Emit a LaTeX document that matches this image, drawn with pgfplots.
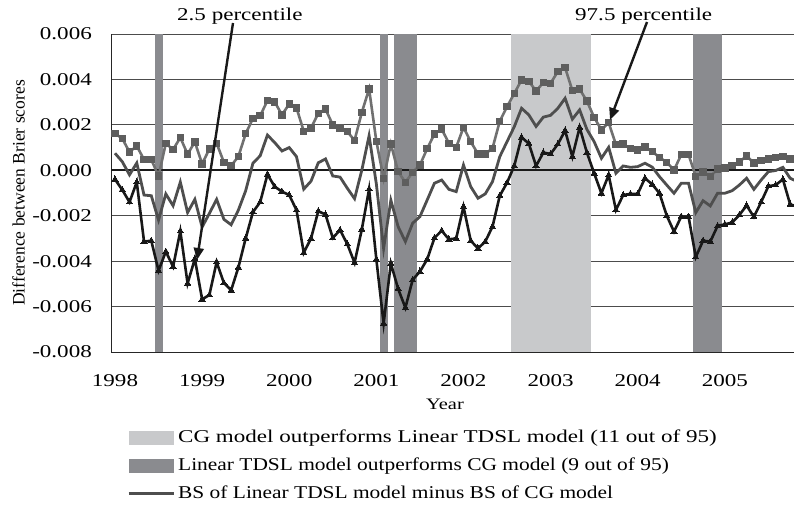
\documentclass[border=0pt]{standalone}
\usepackage{fontspec}
\setmainfont{Liberation Serif}[FakeStretch=1.28]
\newfontfamily\plainserif{Liberation Serif}
\newfontfamily\legnarrow{Liberation Serif}[FakeStretch=1.19]
\usepackage{pgfplots}
\pgfplotsset{compat=1.18}
\usepackage{pgfplotstable}
\usetikzlibrary{arrows.meta}
\definecolor{lightband}{HTML}{C8C9CB}
\definecolor{darkband}{HTML}{8A8B8F}
\definecolor{upcol}{HTML}{707070}
\definecolor{upmark}{HTML}{5E5E5E}
\definecolor{midcol}{HTML}{4E4E4E}
\definecolor{lowcol}{HTML}{181818}
\pgfplotstableread{
m U M L
0 0.00162 0.00075 -0.00040
1 0.00140 0.00038 -0.00086
2 0.00080 -0.00020 -0.00140
3 0.00107 0.00032 -0.00052
4 0.00047 -0.00109 -0.00314
5 0.00047 -0.00112 -0.00310
6 -0.00025 -0.00219 -0.00442
7 0.00118 -0.00104 -0.00358
8 0.00091 -0.00156 -0.00424
9 0.00144 -0.00052 -0.00268
10 0.00071 -0.00186 -0.00498
11 0.00125 -0.00128 -0.00390
12 0.00028 -0.00250 -0.00568
13 0.00094 -0.00190 -0.00549
14 0.00119 -0.00128 -0.00404
15 0.00035 -0.00216 -0.00496
16 0.00020 -0.00240 -0.00528
17 0.00061 -0.00175 -0.00427
18 0.00161 -0.00090 -0.00300
19 0.00228 0.00031 -0.00184
20 0.00240 0.00064 -0.00140
21 0.00307 0.00155 -0.00018
22 0.00301 0.00122 -0.00072
23 0.00244 0.00085 -0.00094
24 0.00292 0.00100 -0.00109
25 0.00275 0.00060 -0.00175
26 0.00172 -0.00083 -0.00363
27 0.00186 -0.00048 -0.00300
28 0.00251 0.00033 -0.00180
29 0.00269 0.00050 -0.00195
30 0.00200 -0.00025 -0.00298
31 0.00186 -0.00030 -0.00263
32 0.00170 -0.00079 -0.00325
33 0.00132 -0.00125 -0.00407
34 0.00255 0.00001 -0.00260
35 0.00358 0.00152 -0.00083
36 0.00128 -0.00060 -0.00392
37 -0.00036 -0.00344 -0.00674
38 0.00116 -0.00132 -0.00410
39 -0.00006 -0.00248 -0.00522
40 -0.00053 -0.00314 -0.00605
41 -0.00009 -0.00233 -0.00482
42 0.00023 -0.00204 -0.00446
43 0.00095 -0.00131 -0.00392
44 0.00160 -0.00057 -0.00298
45 0.00181 -0.00043 -0.00266
46 0.00119 -0.00084 -0.00304
47 0.00101 -0.00094 -0.00300
48 0.00189 0.00023 -0.00160
49 0.00126 -0.00072 -0.00310
50 0.00072 -0.00123 -0.00344
51 0.00072 -0.00104 -0.00314
52 0.00097 -0.00050 -0.00248
53 0.00216 0.00060 -0.00112
54 0.00280 0.00126 -0.00055
55 0.00338 0.00192 0.00020
56 0.00398 0.00273 0.00145
57 0.00392 0.00244 0.00118
58 0.00349 0.00193 0.00019
59 0.00386 0.00234 0.00078
60 0.00383 0.00242 0.00072
61 0.00435 0.00273 0.00115
62 0.00452 0.00317 0.00175
63 0.00351 0.00225 0.00060
64 0.00357 0.00266 0.00189
65 0.00305 0.00180 0.00078
66 0.00233 0.00126 -0.00013
67 0.00178 0.00053 -0.00101
68 0.00210 0.00101 -0.00021
69 0.00113 -0.00013 -0.00175
70 0.00115 0.00019 -0.00109
71 0.00095 0.00013 -0.00104
72 0.00090 0.00016 -0.00104
73 0.00102 0.00031 -0.00035
74 0.00082 0.00014 -0.00062
75 0.00057 -0.00028 -0.00101
76 0.00035 -0.00065 -0.00200
77 0.00001 -0.00101 -0.00270
78 0.00069 -0.00057 -0.00204
79 0.00069 -0.00057 -0.00204
80 -0.00027 -0.00186 -0.00382
81 -0.00007 -0.00134 -0.00310
82 -0.00027 -0.00157 -0.00314
83 0.00005 -0.00101 -0.00245
84 0.00010 -0.00101 -0.00238
85 0.00022 -0.00090 -0.00230
86 0.00037 -0.00065 -0.00197
87 0.00063 -0.00035 -0.00155
88 0.00032 -0.00084 -0.00205
89 0.00043 -0.00043 -0.00140
90 0.00050 -0.00006 -0.00070
91 0.00055 -0.00001 -0.00065
92 0.00061 0.00013 -0.00040
93 0.00050 -0.00035 -0.00150
94 0.00040 -0.00050 -0.00160
}\datatable
\begin{document}
\fontsize{18pt}{21pt}\selectfont
\begin{tikzpicture}[x=1pt,y=1pt]
\useasboundingbox (0,0) rectangle (794,506);
\begin{axis}[
  at={(111pt,154pt)}, anchor=south west,
  scale only axis, width=683pt, height=318pt,
  xmin=-0.55, xmax=93.53, ymin=-0.008, ymax=0.006,
  axis x line=bottom, axis y line=left,
  axis line style={-, line width=1pt, color=black!85},
  scaled y ticks=false,
  ytick={-0.008,-0.006,-0.004,-0.002,0,0.002,0.004,0.006},
  yticklabels={-0.008,-0.006,-0.004,-0.002,0.000,0.002,0.004,0.006},
  xtick={0,12,24,36,48,60,72,84},
  xticklabels={1998,1999,2000,2001,2002,2003,2004,2005},
  major tick length=0pt,
  ymajorgrids, grid style={line width=0.8pt, color=black!70},
  yticklabel style={inner sep=0pt, anchor=east, xshift=-19pt, font=\fontsize{18pt}{21pt}\selectfont},
  xticklabel style={inner sep=0pt, anchor=base, yshift=-34pt, font=\fontsize{18pt}{21pt}\selectfont},
  xlabel={Year},
  xlabel style={at={(axis description cs:0.489,-0.182)}, anchor=base, inner sep=0pt, font=\fontsize{16pt}{19pt}\selectfont},
  ylabel={Difference between Brier scores},
  ylabel style={at={(axis description cs:-0.1266,0.5)}, anchor=base, inner sep=0pt, font=\plainserif\fontsize{17.5pt}{20pt}\selectfont},
  legend style={at={(axis description cs:0.0234,-0.245)}, anchor=north west, draw=none, fill=none,
    inner sep=0pt, row sep=12.5pt, column sep=3pt,
    font=\fontsize{18pt}{21pt}\selectfont,
    nodes={inner sep=0pt, anchor=west}},
  legend cell align=left,
  clip=true,
]
% shaded bands
\addplot[fill=lightband, draw=none, area legend,
  legend image code/.code={\fill[lightband] (0pt,-7pt) rectangle (45pt,7pt);}]
  coordinates {(54.55,-0.008) (54.55,0.006) (65.55,0.006) (65.55,-0.008)} --cycle;
\addlegendentry{CG model outperforms Linear TDSL model (11 out of 95)}
\addplot[fill=darkband, draw=none, area legend,
  legend image code/.code={\fill[darkband] (0pt,-7pt) rectangle (45pt,7pt);}]
  coordinates {(5.55,-0.008) (5.55,0.006) (6.6,0.006) (6.6,-0.008)} --cycle;
\addlegendentry{\legnarrow Linear TDSL model outperforms CG model (9 out of 95)}
\addplot[fill=darkband, draw=none, forget plot]
  coordinates {(36.5,-0.008) (36.5,0.006) (37.55,0.006) (37.55,-0.008)} --cycle;
\addplot[fill=darkband, draw=none, forget plot]
  coordinates {(38.45,-0.008) (38.45,0.006) (41.55,0.006) (41.55,-0.008)} --cycle;
\addplot[fill=darkband, draw=none, forget plot]
  coordinates {(79.6,-0.008) (79.6,0.006) (83.55,0.006) (83.55,-0.008)} --cycle;
% zero line
\addplot[black!90, line width=1.8pt, forget plot] coordinates {(-1,0) (95,0)};
% 97.5 percentile
\addplot[upcol, line width=2.6pt, mark=square*, mark size=3.2pt,
  mark options={fill=upmark, draw=upmark, line width=0pt}, forget plot]
  table[x=m, y=U] {\datatable};
% 2.5 percentile
\addplot[lowcol, line width=2.6pt, mark=triangle*, mark size=3.6pt,
  mark options={fill=lowcol, draw=lowcol, line width=0pt}, forget plot]
  table[x=m, y=L] {\datatable};
% difference
\addplot[midcol, line width=2.8pt, no marks,
  legend image code/.code={\draw[midcol, line width=3pt] (0pt,0pt) -- (45pt,0pt);}]
  table[x=m, y=M] {\datatable};
\addlegendentry{\legnarrow BS of Linear TDSL model minus BS of CG model}
\end{axis}
% annotations
\node[anchor=base west, inner sep=0pt] at (177,485.3) {2.5 percentile};
\node[anchor=base west, inner sep=0pt] at (575,485.3) {97.5 percentile};
\draw[line width=2.4pt, black!90, -{Triangle[length=12pt,width=10pt]}] (233,483) -- (197,246);
\draw[line width=2.4pt, black!90, -{Triangle[length=12pt,width=10pt]}] (647,484) -- (610,386);
\end{tikzpicture}
\end{document}
